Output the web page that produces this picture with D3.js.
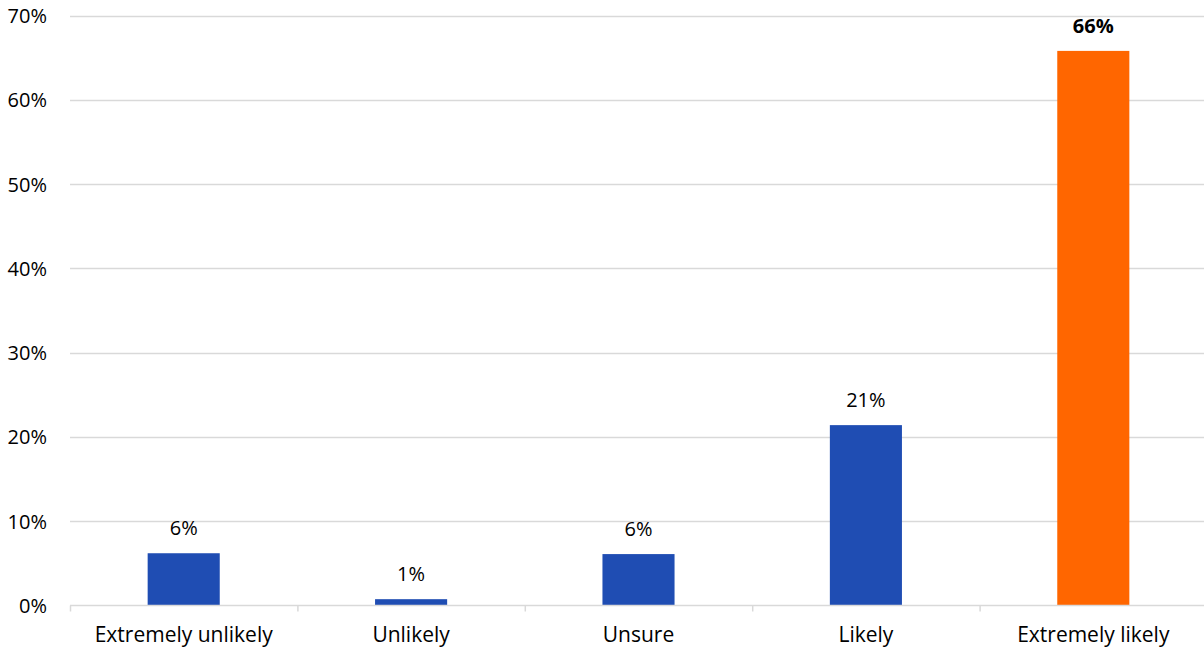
<!DOCTYPE html>
<html>
<head>
<meta charset="utf-8">
<script src="https://cdn.jsdelivr.net/npm/d3@7"></script>
<style>
  html, body { margin: 0; padding: 0; background: #fff; }
  svg { display: block; }
  text { font-family: "Open Sans", Lato, sans-serif; fill: #000; }
</style>
</head>
<body>
<svg id="chart" width="1204" height="652"></svg>
<script>
// Survey responses: share of respondents per likelihood answer
const categories = ["Extremely unlikely", "Unlikely", "Unsure", "Likely", "Extremely likely"];
const shares = [6.2, 0.75, 6.1, 21.4, 65.8];
const highlight = ["Extremely likely"];
const yTicks = [0, 10, 20, 30, 40, 50, 60, 70];

const svg = d3.select("#chart");
const plotLeft = 70, plotRight = 1207, plotTop = 15.5, plotBottom = 605.5;
const labelSize = 21, numberSize = 20;

const x = d3.scaleBand().domain(categories).range([plotLeft, plotRight]).padding(0);
const y = d3.scaleLinear().domain([0, 70]).range([plotBottom, plotTop]);
const barW = x.bandwidth() * 0.317;

// horizontal gridlines
svg.append("g")
  .selectAll("line")
  .data(yTicks.filter(t => t > 0))
  .join("line")
  .attr("x1", plotLeft).attr("x2", 1204)
  .attr("y1", d => Math.round(y(d)) + 0.5).attr("y2", d => Math.round(y(d)) + 0.5)
  .attr("stroke", "#d9d9d9").attr("stroke-width", 1.5);

// y axis labels
const yAxis = d3.axisLeft(y).tickValues(yTicks).tickFormat(d => d + "%").tickSize(0).tickPadding(0);
svg.append("g")
  .attr("transform", `translate(${plotLeft - 23},0)`)
  .call(yAxis)
  .call(g => g.select(".domain").remove())
  .call(g => g.selectAll("text").attr("font-size", numberSize).attr("fill", "#000").attr("dy", "0.35em")
    .style("font-family", "'Open Sans', Lato, sans-serif"));

// bars
svg.append("g")
  .selectAll("rect")
  .data(categories)
  .join("rect")
  .attr("x", d => x(d) + (x.bandwidth() - barW) / 2)
  .attr("width", barW)
  .attr("y", (d, i) => y(shares[i]))
  .attr("height", (d, i) => plotBottom - y(shares[i]))
  .attr("fill", d => highlight.includes(d) ? "#ff6600" : "#1f4db3");

// x axis baseline
const xAxis = d3.axisBottom(x).tickSize(0).tickPadding(0).tickFormat("");
svg.append("g")
  .attr("transform", `translate(0,${plotBottom})`)
  .call(xAxis)
  .call(g => g.select(".domain").attr("stroke", "#d9d9d9").attr("stroke-width", 1.5)
    .attr("d", `M${plotLeft},0H1204`))
  .call(g => g.selectAll(".tick").remove());

// boundary ticks between categories
svg.append("g")
  .selectAll("line")
  .data(categories)
  .join("line")
  .attr("x1", d => x(d) + 0.5).attr("x2", d => x(d) + 0.5)
  .attr("y1", plotBottom).attr("y2", plotBottom + 6)
  .attr("stroke", "#d9d9d9").attr("stroke-width", 1.5);

// category labels
svg.append("g")
  .selectAll("text")
  .data(categories)
  .join("text")
  .attr("x", d => x(d) + x.bandwidth() / 2)
  .attr("y", 642)
  .attr("text-anchor", "middle")
  .attr("font-size", labelSize)
  .text(d => d);

// value labels
svg.append("g")
  .selectAll("text")
  .data(categories)
  .join("text")
  .attr("x", d => x(d) + x.bandwidth() / 2)
  .attr("y", (d, i) => y(shares[i]) - 18)
  .attr("text-anchor", "middle")
  .attr("font-size", numberSize)
  .attr("font-weight", d => highlight.includes(d) ? "bold" : "normal")
  .text((d, i) => Math.round(shares[i]) + "%");
</script>
</body>
</html>
